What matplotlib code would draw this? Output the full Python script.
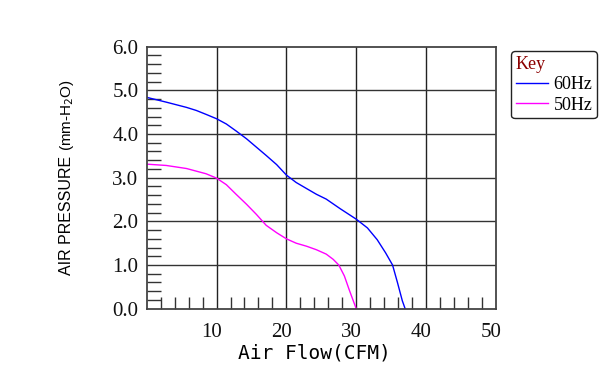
import matplotlib.pyplot as plt
import matplotlib.transforms as mtransforms
import numpy as np

# P-Q curves read from the fan data sheet
flow_60 = [0, 2.8, 5.7, 7.1, 8.5, 10.0, 11.4, 12.8, 14.3, 15.7, 17.1, 18.6, 20.0,
           21.4, 22.9, 24.3, 25.7, 27.7, 30.0, 31.6, 33.0, 34.2, 35.2, 35.9, 36.6, 37.0]
pres_60 = [4.84, 4.73, 4.61, 4.54, 4.45, 4.35, 4.23, 4.07, 3.89, 3.70, 3.51, 3.30, 3.06,
           2.89, 2.75, 2.62, 2.51, 2.29, 2.05, 1.85, 1.58, 1.28, 1.00, 0.60, 0.18, 0.0]

flow_50 = [0, 2.8, 5.7, 8.5, 10.0, 11.4, 12.8, 14.3, 15.7, 17.1, 18.6, 20.0, 21.4,
           22.9, 24.3, 25.7, 26.7, 27.5, 28.3, 29.0, 29.6, 30.0]
pres_50 = [3.31, 3.28, 3.21, 3.09, 2.99, 2.84, 2.62, 2.39, 2.16, 1.91, 1.74, 1.60, 1.50,
           1.43, 1.35, 1.25, 1.13, 1.00, 0.75, 0.43, 0.17, 0.0]

x_ticks = [10, 20, 30, 40, 50]
y_ticks = [0.0, 1.0, 2.0, 3.0, 4.0, 5.0, 6.0]
y_labels = ['0.0', '1.0', '2.0', '3.0', '4.0', '5.0', '6.0']

fig = plt.figure(figsize=(6.1, 3.7), dpi=100)
ax = fig.add_axes([0.2405, 0.1657, 0.5725, 0.7081])

ax.plot(flow_60, pres_60, color='#0000ff', lw=1, label='60Hz')
ax.plot(flow_50, pres_50, color='#ff00ff', lw=1, label='50Hz')

ax.set_xlim(0, 50)
ax.set_ylim(0, 6)

# grid at the major positions, short inward ticks at minor positions
for xv in x_ticks[:-1]:
    ax.axvline(xv, color='#222222', lw=1, zorder=0.5)
for yv in y_ticks[1:-1]:
    ax.axhline(yv, color='#333333', lw=1, zorder=0.5)

ax.set_xticks(x_ticks)
ax.set_xticklabels([str(v) for v in x_ticks])
ax.set_yticks(y_ticks)
ax.set_yticklabels(y_labels)
ax.set_xticks([v for v in np.arange(2, 50, 2) if v % 10 != 0], minor=True)
ax.set_yticks([v for v in np.arange(0.2, 6.0, 0.2) if abs(v - round(v)) > 0.01], minor=True)
ax.tick_params(which='major', length=0, pad=6, labelsize=15, labelcolor='#111111')
ax.tick_params(axis='x', which='major', pad=10)
ax.tick_params(which='minor', direction='in', length=9, width=1, color='#333333')
ax.tick_params(axis='y', which='minor', length=10)
for lab in ax.get_xticklabels() + ax.get_yticklabels():
    lab.set_family('Liberation Serif')
shift = mtransforms.ScaledTranslation(-5 / 100, 0, fig.dpi_scale_trans)
for lab in ax.get_xticklabels():
    lab.set_transform(lab.get_transform() + shift)

for sp in ax.spines.values():
    sp.set_color('#444444')
    sp.set_linewidth(1.3)

fig.text(314 / 610, 1 - 353 / 370, 'Air Flow(CFM)', family='DejaVu Sans Mono',
         fontsize=14, ha='center', va='center')
fig.text(66.5 / 610, 1 - 275 / 370, 'AIR PRESSURE', family='Liberation Sans',
         fontsize=11.5, rotation=90, ha='center', va='bottom')
fig.text(66.5 / 610, 1 - 79 / 370, '(mm-H$_2$O)', family='Liberation Sans',
         fontsize=11, rotation=90, ha='center', va='top')

leg = ax.legend(loc='upper left', bbox_to_anchor=(511 / 610, 1 - 51 / 370),
                bbox_transform=fig.transFigure, title='Key', alignment='left',
                fancybox=True, framealpha=1, edgecolor='#222222',
                prop={'family': 'Liberation Serif', 'size': 13},
                title_fontproperties={'family': 'Liberation Serif', 'size': 13},
                handlelength=1.8, handletextpad=0.3, labelspacing=0.2,
                borderpad=0.25, borderaxespad=0)
leg.get_title().set_color('#8b0000')
leg.get_frame().set_linewidth(1.0)

fig.savefig('out.png', dpi=100)
